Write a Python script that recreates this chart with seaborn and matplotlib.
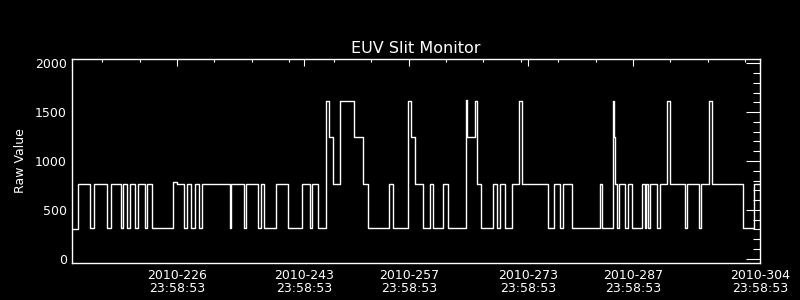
import numpy as np
import pandas as pd
import matplotlib
matplotlib.use("Agg")
import matplotlib.pyplot as plt
import seaborn as sns
from matplotlib.ticker import FixedLocator, MultipleLocator

# ---- data (day-of-year 2010, fractional; value changes, step-post) ----
times = [213.07, 213.74, 215.38, 215.84, 217.66, 218.11, 219.45, 219.76, 220.33, 220.73,
         221.40, 221.81, 222.66, 223.01, 223.68, 226.45, 226.98, 227.96, 228.36, 228.86,
         229.39, 229.97, 230.37, 234.08, 234.25, 235.91, 236.26, 237.86, 238.27, 238.67,
         240.27, 241.88, 243.75, 244.74, 245.01, 245.89, 246.96, 247.36, 247.90, 248.84,
         250.71, 251.91, 252.58, 255.39, 255.93, 257.90, 258.34, 258.87, 259.86, 260.88,
         261.28, 262.62, 263.29, 265.70, 265.79, 266.90, 267.17, 267.71, 269.31, 269.85,
         270.25, 270.92, 271.77, 272.79, 273.15, 276.59, 277.47, 278.28, 278.68, 279.88,
         283.55, 283.82, 285.37, 285.44, 285.56, 285.82, 286.17, 286.89, 287.30, 287.83,
         289.25, 289.56, 289.75, 290.05, 290.22, 291.26, 291.66, 292.60,
         292.96, 294.93, 295.19, 296.80, 297.14, 298.22, 298.62, 302.77, 304.20, 305.00]
values = [300, 760, 310, 760, 310, 760, 310, 760, 310, 760,
          310, 760, 310, 760, 310, 780, 760, 310, 760, 310,
          760, 310, 760, 310, 760, 310, 760, 310, 760, 310,
          760, 310, 760, 310, 760, 310, 1610, 1250, 760, 1610,
          1250, 760, 310, 760, 310, 1610, 1250, 760, 310, 760,
          310, 760, 310, 1630, 1250, 1610, 760, 310, 760, 310,
          760, 310, 760, 1610, 760, 310, 760, 310, 760, 310,
          760, 310, 1610, 1250, 760, 310, 760, 310, 760, 310,
          760, 310, 760, 310, 760, 310, 760, 1610,
          760, 310, 760, 310, 760, 1610, 760, 310, 760, 760]

label_days = [226, 243, 257, 273, 287, 304]
label_time = "23:58:53"
minor_days = [217, 222, 227, 232, 237, 242, 248, 253, 258, 263, 268, 273,
              278, 283, 288, 293, 298, 303]
y_major = [0, 500, 1000, 1500, 2000]

# ---- style ----
sns.set_style("dark", rc={
    "axes.facecolor": "black",
    "figure.facecolor": "black",
    "axes.edgecolor": "white",
    "text.color": "white",
    "axes.labelcolor": "white",
    "xtick.color": "white",
    "ytick.color": "white",
    "axes.grid": False,
})
plt.rcParams["font.family"] = ["DejaVu Sans"]

fig = plt.figure(figsize=(8, 3), dpi=100, facecolor="black")
ax = fig.add_axes([0.0906, 0.1233, 0.8594, 0.68])
ax.set_facecolor("black")

df = pd.DataFrame({"t": times, "v": values})
sns.lineplot(data=df, x="t", y="v", drawstyle="steps-post", color="white",
             linewidth=1.0, estimator=None, sort=False, ax=ax)

ax.set_xlim(213, 305)
ax.set_ylim(-45, 2045)

frac = (23 * 3600 + 58 * 60 + 53) / 86400.0
ax.xaxis.set_major_locator(FixedLocator([d + frac for d in label_days]))
ax.set_xticklabels([f"2010-{d}\n{label_time}" for d in label_days])
ax.xaxis.set_minor_locator(FixedLocator(minor_days))
ax.set_yticks(y_major)
ax.set_yticklabels([str(v) for v in y_major])
ax.yaxis.set_minor_locator(MultipleLocator(100))

for s in ax.spines.values():
    s.set_color("white")
    s.set_linewidth(1.0)
    s.set_visible(True)

ax.tick_params(which="both", direction="in", colors="white", top=True, right=True,
               labelsize=9)
ax.tick_params(axis="x", which="major", length=5, width=0.8, pad=4)
ax.tick_params(axis="x", which="minor", length=2.5, width=0.8)
ax.tick_params(axis="y", which="major", length=10, width=0.8, pad=4)
ax.tick_params(axis="y", which="minor", length=5, width=0.8)
for lbl in ax.get_xticklabels():
    lbl.set_linespacing(1.0)

ax.set_xlabel("")
ax.set_ylabel("Raw Value", fontsize=9, color="white", labelpad=6)
ax.set_title("EUV Slit Monitor", color="white", fontsize=11.5, pad=4)

fig.savefig("out.png", dpi=100, facecolor="black")
